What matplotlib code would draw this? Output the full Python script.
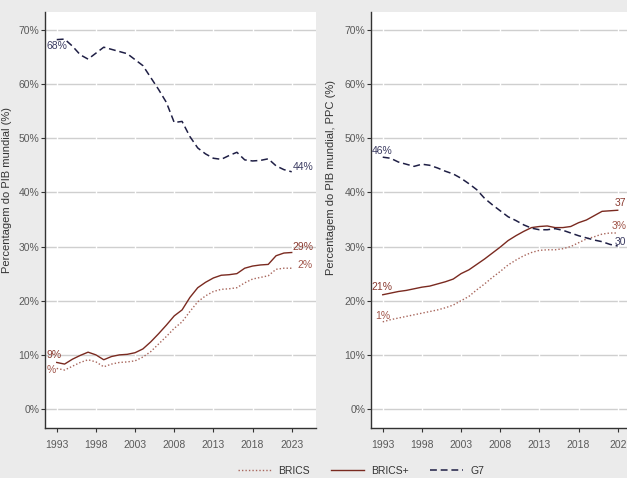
import matplotlib
matplotlib.use("Agg")
import matplotlib.pyplot as plt
from matplotlib.lines import Line2D
from matplotlib.transforms import blended_transform_factory, offset_copy

years = list(range(1993, 2024))

# Left panel: share of world GDP (nominal), %
g7_nom = [68.2, 68.3, 67.0, 65.4, 64.6, 65.7, 66.8, 66.4, 66.0, 65.6, 64.5, 63.4, 61.2, 59.0, 56.6,
          52.9, 53.1, 50.3, 48.2, 47.1, 46.3, 46.1, 46.8, 47.4, 46.0, 45.8, 45.9, 46.2, 44.9, 44.2, 43.8]
bricsplus_nom = [8.6, 8.3, 9.2, 9.9, 10.5, 10.0, 9.1, 9.7, 10.0, 10.1, 10.4, 11.1, 12.4, 13.9, 15.5,
                 17.2, 18.3, 20.6, 22.4, 23.4, 24.2, 24.7, 24.8, 25.0, 26.0, 26.4, 26.6, 26.7, 28.3, 28.8, 28.9]
brics_nom = [7.5, 7.2, 7.9, 8.6, 9.1, 8.7, 7.8, 8.3, 8.6, 8.7, 8.9, 9.6, 10.6, 12.0, 13.4,
             14.9, 16.1, 18.0, 19.8, 20.9, 21.7, 22.1, 22.2, 22.4, 23.3, 24.0, 24.3, 24.6, 25.8, 26.0, 26.0]

# Right panel: share of world GDP (PPP), %
g7_ppp = [46.5, 46.3, 45.6, 45.2, 44.8, 45.2, 45.0, 44.5, 43.9, 43.4, 42.6, 41.6, 40.5, 38.9, 37.7,
          36.6, 35.5, 34.8, 34.0, 33.4, 33.1, 33.1, 33.3, 33.0, 32.5, 32.0, 31.6, 31.2, 30.9, 30.4, 30.1]
bricsplus_ppp = [21.1, 21.4, 21.7, 21.9, 22.2, 22.5, 22.7, 23.1, 23.5, 24.0, 25.0, 25.7, 26.7, 27.7, 28.8,
                 29.9, 31.1, 32.0, 32.8, 33.5, 33.7, 33.8, 33.5, 33.5, 33.7, 34.4, 34.9, 35.7, 36.5, 36.6, 36.7]
brics_ppp = [16.1, 16.5, 16.8, 17.1, 17.4, 17.7, 18.0, 18.3, 18.7, 19.2, 20.0, 20.8, 22.0, 23.1, 24.3,
             25.4, 26.6, 27.5, 28.3, 28.9, 29.3, 29.4, 29.4, 29.6, 30.0, 30.7, 31.4, 31.8, 32.3, 32.5, 32.5]

xticks = [1993, 1998, 2003, 2008, 2013, 2018, 2023]
xtick_labels_left = ["1993", "1998", "2003", "2008", "2013", "2018", "2023"]
# the last label is cut by the figure edge in the reference
xtick_labels_right = ["1993", "1998", "2003", "2008", "2013", "2018", ""]
cut_xtick = "202"
yticks = [0, 10, 20, 30, 40, 50, 60, 70]
ytick_labels = ["0%", "10%", "20%", "30%", "40%", "50%", "60%", "70%"]

ylabels = ["Percentagem do PIB mundial (%)", "Percentagem do PIB mundial, PPC (%)"]

# Value labels as they appear in the reference (some are truncated there)
left_labels = [("68%", 1991.75, 67.1, "g7"), ("44%", 2023.1, 44.7, "g7"),
               ("9%", 1991.75, 10.0, "bp"), ("%", 1991.75, 7.2, "b"),
               ("29%", 2023.1, 29.9, "bp"), ("2%", 2023.7, 26.6, "b")]
right_labels = [("46%", 1991.6, 47.7, "g7"), ("21%", 1991.6, 22.5, "bp"),
                ("1%", 1992.0, 17.2, "b")]
# labels cut by the right edge of the figure in the reference
edge_labels = [("37", 38.1, "bp"), ("3%", 33.8, "b"), ("30", 30.9, "g7")]

C_BP = "#7a2a20"
C_B = "#a8665c"
C_G7 = "#1f1f45"
txtcol = {"g7": "#3c3c62", "bp": "#8a3a30", "b": "#a0554a"}

plt.rcParams["font.family"] = ["Liberation Sans", "DejaVu Sans"]

fig = plt.figure(figsize=(6.27, 4.78), dpi=100, facecolor="#ebebeb")
W, H = 627.0, 478.0
ax_w = 271 / W
ax_h = 416 / H
ax_b = 1 - 428 / H
axL = fig.add_axes([45 / W, ax_b, ax_w, ax_h])
axR = fig.add_axes([371 / W, ax_b, ax_w, ax_h])

panels = [(axL, brics_nom, bricsplus_nom, g7_nom, left_labels, ylabels[0], (-0.122, 0.572), xtick_labels_left),
          (axR, brics_ppp, bricsplus_ppp, g7_ppp, right_labels, ylabels[1], (-0.129, 0.601), xtick_labels_right)]

for ax, b, bp, g7, labs, ylab, lpos, xtl in panels:
    ax.set_facecolor("white")
    ax.set_xlim(1991.5, 2026.1)
    ax.set_ylim(-3.5, 73.3)
    ax.set_yticks(yticks)
    ax.set_yticklabels(ytick_labels)
    ax.set_xticks(xticks)
    ax.set_xticklabels(xtl)
    ax.grid(axis="y", color="#cfcfcf", linewidth=1.0, zorder=0)
    for xt in xticks:
        ax.axvline(xt, color="white", linewidth=1.0, zorder=1)
    ax.set_axisbelow(True)
    ax.plot(years, b, color=C_B, linestyle=(0, (1, 1.5)), linewidth=1.0, zorder=3)
    ax.plot(years, bp, color=C_BP, linestyle="-", linewidth=1.0, zorder=3)
    ax.plot(years, g7, color=C_G7, linestyle=(0, (4.5, 2.5)), linewidth=1.1, zorder=3)
    for s in ["top", "right"]:
        ax.spines[s].set_visible(False)
    for s in ["left", "bottom"]:
        ax.spines[s].set_color("#333333")
        ax.spines[s].set_linewidth(1.0)
    ax.tick_params(axis="both", labelsize=7.5, colors="#333333", labelcolor="#5a5a5a",
                   length=3, width=0.8)
    ax.tick_params(axis="x", pad=6)
    ax.tick_params(axis="y", pad=1)
    ax.set_ylabel(ylab, fontsize=8, color="#333333")
    ax.yaxis.set_label_coords(*lpos)
    for t, x, y, k in labs:
        ax.text(x, y, t, color=txtcol[k], fontsize=7.5, ha="left", va="center",
                zorder=4, clip_on=False)

tr = blended_transform_factory(fig.transFigure, axR.transData)
for t, y, k in edge_labels:
    fig.text(626.5 / W, y, t, transform=tr, color=txtcol[k], fontsize=7.5,
             ha="right", va="center", zorder=4)

# truncated last x tick label of right panel
trx = blended_transform_factory(fig.transFigure, axR.transAxes)
trx = offset_copy(trx, fig=fig, y=-9, units="points")
fig.text(626.5 / W, 0, cut_xtick, transform=trx, color="#5a5a5a", fontsize=7.5,
         ha="right", va="top")

handles = [Line2D([], [], color=C_B, linestyle=(0, (1, 1.5)), linewidth=1.0),
           Line2D([], [], color=C_BP, linestyle="-", linewidth=1.0),
           Line2D([], [], color=C_G7, linestyle=(0, (4.5, 2.5)), linewidth=1.1)]
fig.legend(handles, ["BRICS", "BRICS+", "G7"], loc="center", bbox_to_anchor=(361 / W, 1 - 471 / H),
           ncol=3, frameon=False, fontsize=7.5, handlelength=3.2, columnspacing=2.0,
           handletextpad=0.7, labelcolor="#333333")

fig.savefig("out.png", dpi=100, facecolor=fig.get_facecolor())
